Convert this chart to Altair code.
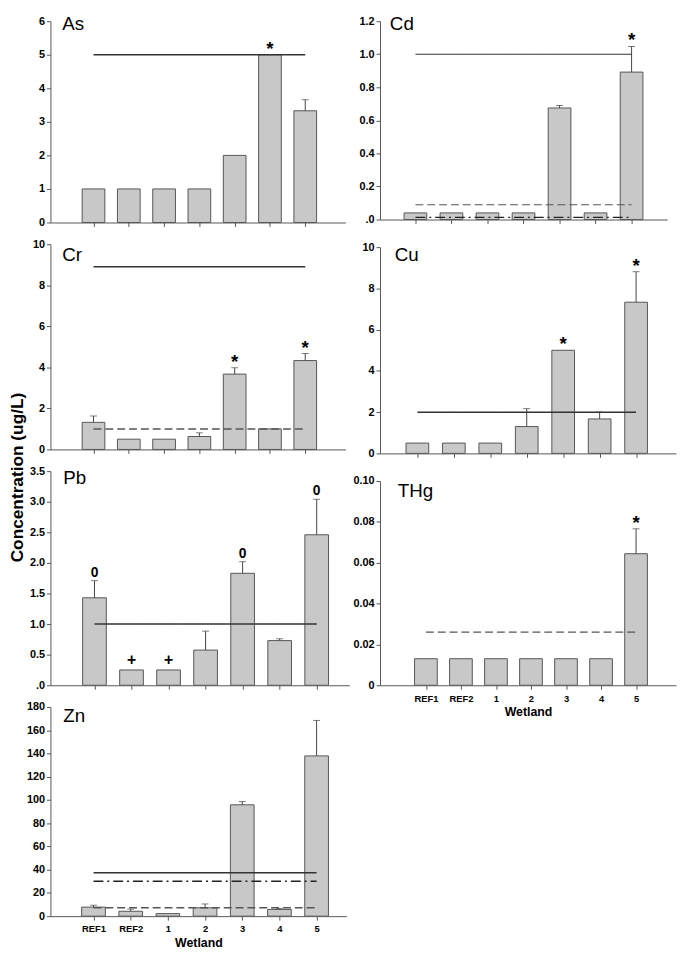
import json
import pandas as pd
import altair as alt

FONT = "Liberation Sans"

wetlands = ["REF1", "REF2", "1", "2", "3", "4", "5"]

# ---- data ----
as_mean = [1.0, 1.0, 1.0, 1.0, 2.0, 5.0, 3.33]
as_err = [0, 0, 0, 0, 0, 0, 0.33]
as_sig = ["", "", "", "", "", "*", ""]
as_guides = [5.0]
as_kinds = ["solid"]

cd_mean = [0.04, 0.04, 0.04, 0.04, 0.675, 0.04, 0.892]
cd_err = [0, 0, 0, 0, 0.015, 0, 0.155]
cd_sig = ["", "", "", "", "", "", "*"]
cd_guides = [1.0, 0.089, 0.013]
cd_kinds = ["solid", "dashed", "dashdot"]

cr_mean = [1.32, 0.5, 0.5, 0.63, 3.67, 1.0, 4.33]
cr_err = [0.31, 0, 0, 0.18, 0.31, 0, 0.34]
cr_sig = ["", "", "", "", "*", "", "*"]
cr_guides = [8.9, 1.0]
cr_kinds = ["solid", "dashed"]

cu_mean = [0.5, 0.5, 0.5, 1.3, 5.0, 1.67, 7.33]
cu_err = [0, 0, 0, 0.87, 0, 0.33, 1.48]
cu_sig = ["", "", "", "", "*", "", "*"]
cu_guides = [2.0]
cu_kinds = ["solid"]

pb_mean = [1.43, 0.25, 0.25, 0.575, 1.83, 0.73, 2.46]
pb_err = [0.28, 0, 0, 0.31, 0.19, 0.03, 0.58]
pb_sig = ["0", "+", "+", "", "0", "", "0"]
pb_guides = [1.0]
pb_kinds = ["solid"]

thg_mean = [0.013, 0.013, 0.013, 0.013, 0.013, 0.013, 0.0644]
thg_err = [0, 0, 0, 0, 0, 0, 0.0122]
thg_sig = ["", "", "", "", "", "", "*"]
thg_guides = [0.026]
thg_kinds = ["dashed"]

zn_mean = [7.8, 4.2, 2.2, 7.2, 95.8, 5.8, 137.9]
zn_err = [1.6, 1.9, 0, 3.3, 2.8, 0.7, 30.5]
zn_sig = ["", "", "", "", "", "", ""]
zn_guides = [37.4, 30.0, 7.2]
zn_kinds = ["solid", "dashdot", "dashed"]

KIND_DOMAIN = ["solid", "dashed", "dashdot"]
KIND_DASH = [[1, 0], [8, 4], [10, 4, 2, 4]]
KIND_COLOR = ["#333333", "#555555", "#222222"]


def yticks(ymax, step):
    n = int(round(ymax / step))
    return [round(i * step, 4) for i in range(n + 1)]


def panel(name, mean, err, sig, gvals, gkinds, ymax, ystep, yexpr, xdom,
          width, height, bar_size, label_pos, guide_width=1.5,
          x_labels=False, y_title=None):
    df = pd.DataFrame({"pos": list(range(1, len(wetlands) + 1)),
                       "wetland": wetlands, "mean": mean, "err": err, "sig": sig})
    df["top"] = df["mean"] + df["err"]
    gl = pd.DataFrame({"value": gvals, "kind": gkinds})

    xscale = alt.Scale(domain=list(xdom), nice=False, zero=False)
    yscale = alt.Scale(domain=[0, ymax], nice=False, zero=True)

    xkw = dict(values=list(range(1, 8)), grid=False, ticks=True, tickSize=4,
               domain=True, labels=x_labels)
    if x_labels:
        xkw.update(labelExpr=json.dumps(wetlands) + "[datum.value - 1]",
                   labelFontSize=9.5, labelFontWeight="bold", labelPadding=4,
                   labelColor="black", titleFontSize=12.5, titleFontWeight="bold",
                   titlePadding=3, titleColor="black")
    xaxis = alt.Axis(**xkw)
    ykw = dict(values=yticks(ymax, ystep), labelExpr=yexpr, grid=False, tickSize=4,
               labelPadding=2, labelFontSize=11, labelFontWeight="bold",
               labelColor="black")
    if y_title:
        ykw.update(titleX=-33, titleY=6, titleAngle=270, titleAlign="center",
                   titleBaseline="middle", titleFontSize=17.5, titleFontWeight="bold",
                   titleColor="black")
    yaxis = alt.Axis(**ykw)
    xtitle = "Wetland" if x_labels else None

    X = alt.X("pos:Q", scale=xscale, axis=xaxis, title=xtitle)

    def Y(field):
        return alt.Y(field, type="quantitative", scale=yscale, axis=yaxis, title=y_title)

    base = alt.Chart(df)
    layers = []
    layers.append(base.mark_bar(size=bar_size, fill="#c8c8c8", stroke="#555555",
                                strokeWidth=1).encode(x=X, y=Y("mean")))
    eb = base.transform_filter("datum.err > 0")
    layers.append(eb.mark_rule(color="#444444", strokeWidth=1).encode(
        x=X, y=Y("mean"), y2="top:Q"))
    layers.append(eb.mark_tick(orient="horizontal", size=7, thickness=1,
                               color="#444444").encode(x=X, y=Y("top")))
    layers.append(alt.Chart(gl).mark_rule(strokeWidth=guide_width).encode(
        x=alt.X(datum=1, scale=xscale, axis=xaxis, title=xtitle),
        x2=alt.X2(datum=7),
        y=Y("value"),
        strokeDash=alt.StrokeDash("kind:N", scale=alt.Scale(domain=KIND_DOMAIN, range=KIND_DASH), legend=None),
        color=alt.Color("kind:N", scale=alt.Scale(domain=KIND_DOMAIN, range=KIND_COLOR), legend=None),
    ))
    for sym, fs, dy in [("*", 19, 0), ("0", 14, -4), ("+", 16, -5)]:
        layers.append(base.transform_filter(alt.datum.sig == sym).mark_text(
            font=FONT, fontSize=fs, fontWeight="bold", baseline="alphabetic",
            dy=dy, color="black").encode(x=X, y=Y("top"), text="sig:N"))
    lx, ly = label_pos
    layers.append(alt.Chart(pd.DataFrame({"label": [name]})).mark_text(
        font=FONT, fontSize=19, align="left", baseline="alphabetic", color="black"
    ).encode(x=alt.value(lx), y=alt.value(ly), text="label:N"))
    return alt.layer(*layers).properties(width=width, height=height)


int_expr = "format(datum.value, 'd')"
dec_expr = "datum.value == 0 ? '.0' : format(datum.value, '.1f')"
thg_expr = "datum.value == 0 ? '0' : format(datum.value, '.2f')"

p_as = panel("As", as_mean, as_err, as_sig, as_guides, as_kinds, 6, 1, int_expr,
             (-0.081, 8.0), 299, 204, 23, (12, 9))
p_cr = panel("Cr", cr_mean, cr_err, cr_sig, cr_guides, cr_kinds, 10, 2, int_expr,
             (-0.081, 8.0), 299, 208, 23, (12, 17))
p_pb = panel("Pb", pb_mean, pb_err, pb_sig, pb_guides, pb_kinds, 3.5, 0.5, dec_expr,
             (-0.056, 7.75), 303, 217, 24, (13, 13), y_title="Concentration (ug/L)")
p_zn = panel("Zn", zn_mean, zn_err, zn_sig, zn_guides, zn_kinds, 180, 20, int_expr,
             (-0.026, 7.67), 300, 212, 24, (13, 15), x_labels=True)

p_cd = panel("Cd", cd_mean, cd_err, cd_sig, cd_guides, cd_kinds, 1.2, 0.2, dec_expr,
             (0.153, 7.85), 291, 201, 23, (10, 9), guide_width=1.1)
p_cu = panel("Cu", cu_mean, cu_err, cu_sig, cu_guides, cu_kinds, 10, 2, int_expr,
             (0.11, 7.96), 300, 209, 23, (15, 14))
p_thg = panel("THg", thg_mean, thg_err, thg_sig, thg_guides, thg_kinds, 0.10, 0.02, thg_expr,
              (-0.17, 8.0), 300, 207, 23, (18, 16), guide_width=1.1, x_labels=True)

left = alt.vconcat(p_as, p_cr, p_pb, p_zn, spacing=22, bounds="flush").resolve_scale(
    x="independent", y="independent")
right = alt.vconcat(p_cd, p_cu, p_thg, spacing=28, bounds="flush").resolve_scale(
    x="independent", y="independent")

chart = alt.hconcat(left, right, spacing=2).resolve_scale(
    x="independent", y="independent"
).properties(
    padding={"left": 0, "top": 0, "right": 0, "bottom": 0}
).configure(font=FONT).configure_view(stroke="transparent").configure_axis(
    domainColor="#555555", tickColor="#555555", labelFont=FONT, titleFont=FONT
)

chart.save("out.html", embed_options={"renderer": "svg", "actions": False})
